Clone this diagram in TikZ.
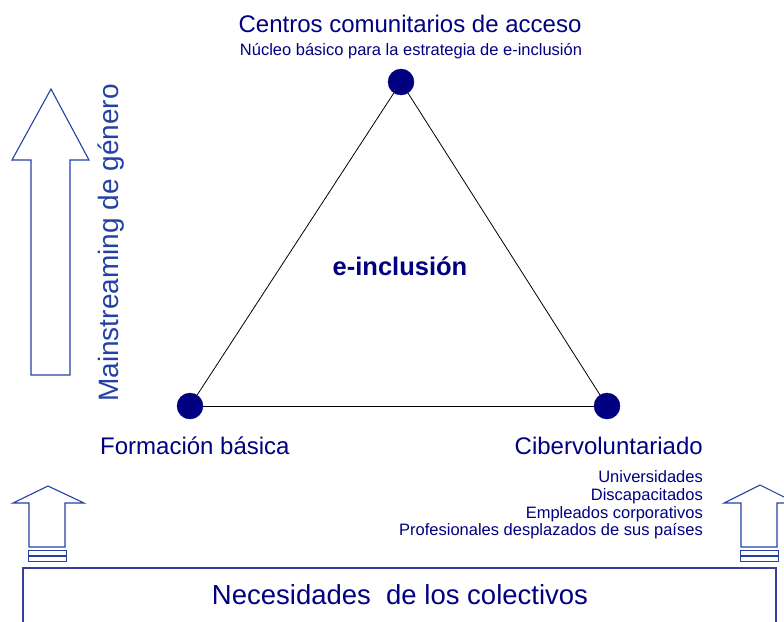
\documentclass[tikz,border=0pt]{standalone}
\usepackage{fontspec}
\setmainfont{Liberation Sans}
\usepackage{tikz}
\definecolor{navytext}{RGB}{0,0,128}
\definecolor{arrowblue}{RGB}{35,65,165}
\definecolor{boxblue}{RGB}{60,60,160}
\tikzset{
    vertex/.style={circle, fill=navytext, draw=navytext, minimum size=26pt,
    	inner sep=0pt}
}
\tikzset{
    label text/.style={text=navytext, inner sep=0pt, anchor=base},
    fat arrow/.style={draw=arrowblue, line width=1.1pt, line join=miter},
    side edge/.style={line width=0.8pt, black}
}

\begin{document}
\begin{tikzpicture}[x=1pt, y=-1pt]
	\useasboundingbox (0,0) rectangle (784,621);
	\clip (0,0) rectangle (784,621);

	\node (centros) [vertex] at (401, 82) {};
	\node (formacion) [vertex] at (190,406) {};
	\node (ciber) [vertex] at (607,406) {};

	\draw[side edge] (centros) -- (formacion);
	\draw[side edge] (centros) -- (ciber);
	\draw[side edge] (formacion) -- (ciber);

	\node (titulo) [label text] at (410, 32)
		{\fontsize{24}{26}\selectfont Centros comunitarios de acceso};
	\node (nucleo) [label text] at (411, 55)
		{\fontsize{16.5}{18}\selectfont Núcleo básico para la estrategia de e-inclusión};
	\node (einc) [label text] at (400,275)
		{\fontsize{25.5}{28}\selectfont\bfseries e-inclusión};
	\node (formtxt) [label text, anchor=base west] at (100,454)
		{\fontsize{24}{26}\selectfont Formación básica};
	\node (cibtxt) [label text, anchor=base east] at (703,454)
		{\fontsize{24}{26}\selectfont Cibervoluntariado};

	\foreach \txt/\y [count=\i] in {Universidades/482, Discapacitados/500,
		Empleados corporativos/518, Profesionales desplazados de sus países/535}
		\node (colect\i) [label text, anchor=base east] at (703,\y)
			{\fontsize{16.5}{18}\selectfont \txt};

	% flecha grande
	\draw[fat arrow] (51,89) -- (89,160) -- (70,160) -- (70,375) -- (31,375)
		-- (31,160) -- (12,160) -- cycle;
	\node (mainst) [label text, text=arrowblue, rotate=90] at (118,243)
		{\fontsize{28}{30}\selectfont Mainstreaming de género};

	% flechas pequenas
	\draw[fat arrow] (48,486) -- (84,503) -- (65,503) -- (65,547) -- (29,547)
		-- (29,503) -- (13,503) -- cycle;
	\draw[fat arrow, line width=1pt] (28,550) rectangle (66,561);
	\draw[arrowblue, line width=2pt] (28,556) -- (66,556);
	\draw[fat arrow] (760,485) -- (796,503) -- (777,503) -- (777,547) -- (741,547)
		-- (741,503) -- (724,503) -- cycle;
	\draw[fat arrow, line width=1pt] (740,550) rectangle (778,561);
	\draw[arrowblue, line width=2pt] (740,556) -- (778,556);

	% caja de necesidades
	\draw[boxblue, line width=1.5pt] (23,640) -- (23,568) -- (776,568) -- (776,640);
	\node (necesidades) [label text] at (400,604)
		{\fontsize{27.5}{30}\selectfont Necesidades\ \ de los colectivos};
\end{tikzpicture}
\end{document}
